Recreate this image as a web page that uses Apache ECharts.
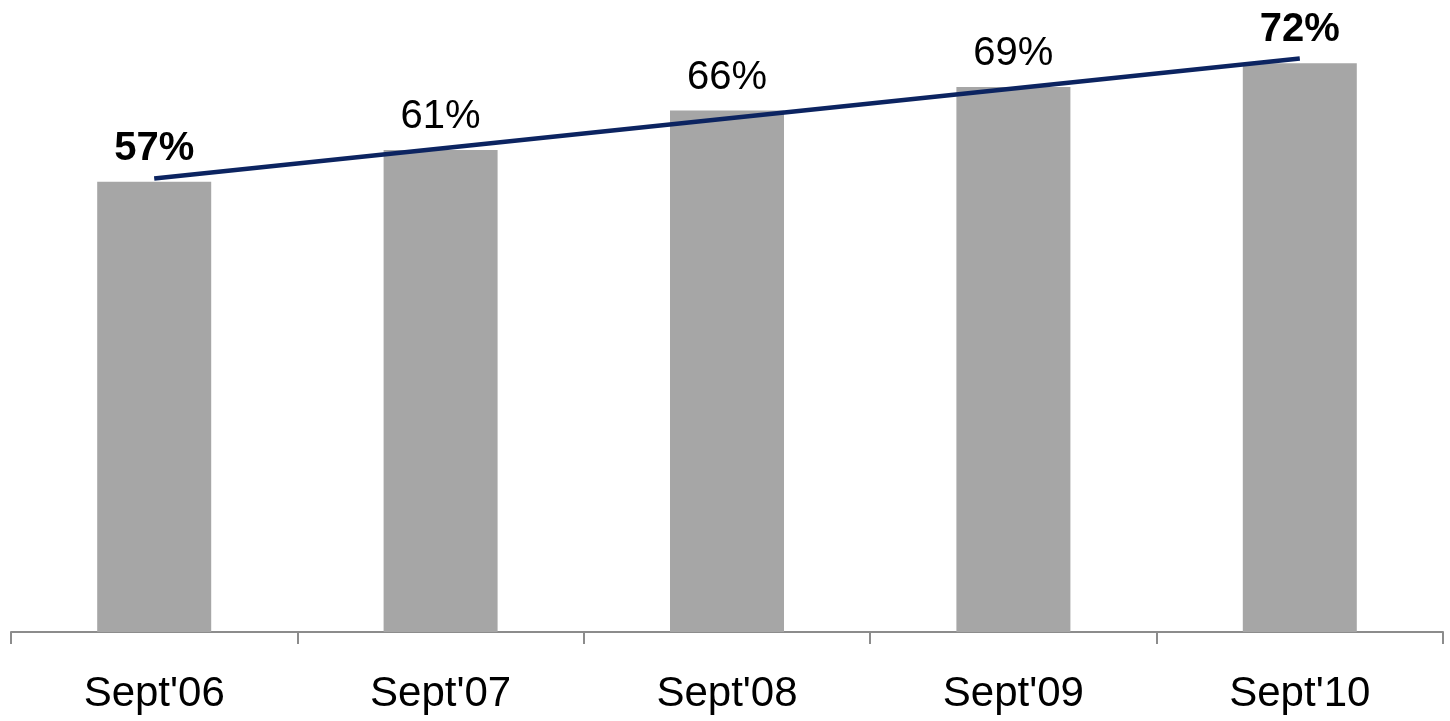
<!DOCTYPE html>
<html>
<head>
<meta charset="utf-8">
<script src="https://cdn.jsdelivr.net/npm/echarts@6/dist/echarts.min.js"></script>
<style>html,body{margin:0;padding:0;background:#fff}#c{width:1450px;height:721px}</style>
</head>
<body>
<div id="c"></div>
<script>
const categories = ["Sept'06", "Sept'07", "Sept'08", "Sept'09", "Sept'10"];
const barValues = [57, 61, 66, 69, 72];
const boldLabels = [true, false, false, false, true];
const trendValues = [57.4, '-', '-', '-', 72.6];

const chart = echarts.init(document.getElementById('c'));
const labelFont = "'Liberation Sans Narrow', 'Arial Narrow', 'Liberation Sans', Arial, sans-serif";
chart.setOption({
  animation: false,
  grid: { left: 11, right: 7, top: -1, bottom: 89 },
  xAxis: {
    type: 'category',
    data: categories,
    axisLine: { lineStyle: { color: '#8c8c8c', width: 2 } },
    axisTick: { show: true, length: 12, lineStyle: { color: '#8c8c8c', width: 2 } },
    axisLabel: { color: '#000', fontSize: 42, fontFamily: "'Liberation Sans', Arial, sans-serif", margin: 41 }
  },
  yAxis: {
    type: 'value', min: 0, max: 80,
    show: false, splitLine: { show: false }
  },
  series: [
    {
      type: 'bar',
      data: barValues.map((v, i) => ({
        value: v,
        label: { fontWeight: boldLabels[i] ? 'bold' : 'normal' }
      })),
      barWidth: 114,
      itemStyle: { color: '#a6a6a6' },
      label: {
        show: true, position: 'top', distance: 13,
        formatter: '{c}%', color: '#000', fontSize: 40, fontFamily: labelFont
      },
      z: 1
    },
    {
      type: 'line',
      data: trendValues,
      connectNulls: true,
      symbol: 'none',
      lineStyle: { color: '#0c2461', width: 4.5 },
      z: 3
    }
  ]
});
</script>
</body>
</html>
